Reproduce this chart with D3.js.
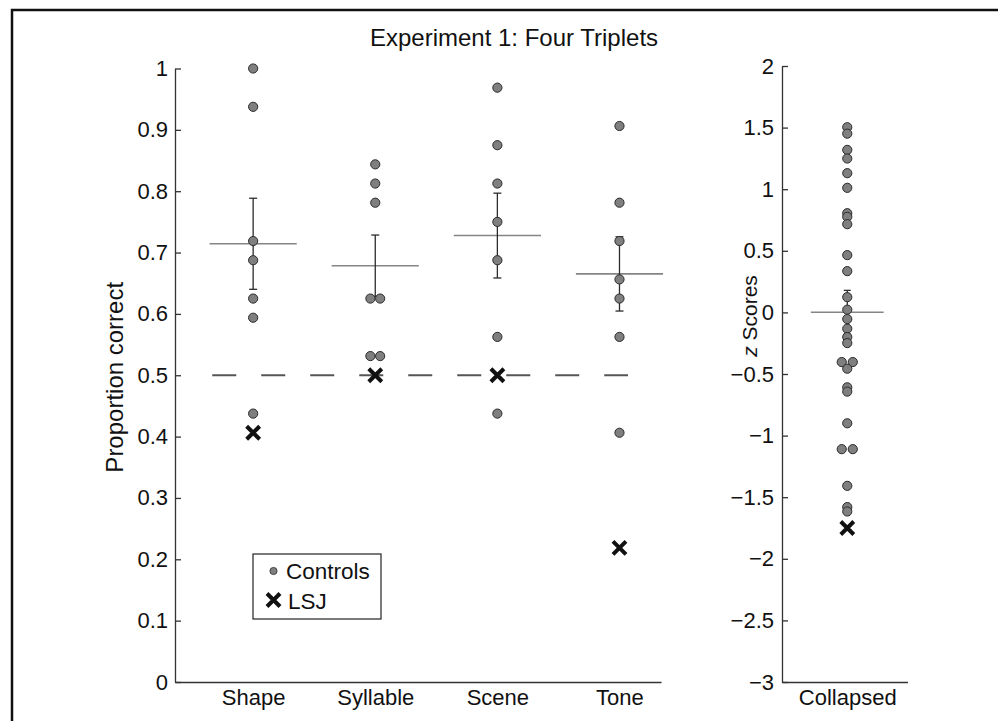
<!DOCTYPE html>
<html>
<head>
<meta charset="utf-8">
<script src="https://cdn.jsdelivr.net/npm/d3@7/dist/d3.min.js"></script>
<style>
  html, body { margin: 0; padding: 0; background: #fff; }
  svg { display: block; }
  text { font-family: "Liberation Sans", Arial, Helvetica, sans-serif; fill: #111; }
</style>
</head>
<body>
<svg id="chart" width="998" height="721"></svg>
<script>
// ---------- data ----------
const title = "Experiment 1: Four Triplets";
const categories = ["Shape", "Syllable", "Scene", "Tone"];
const shapeScores    = [1.0, 0.9375, 0.71875, 0.6875, 0.625, 0.59375, 0.4375];
const syllableScores = [0.84375, 0.8125, 0.78125, 0.625, 0.625, 0.53125, 0.53125];
const sceneScores    = [0.96875, 0.875, 0.8125, 0.75, 0.6875, 0.5625, 0.4375];
const toneScores     = [0.90625, 0.78125, 0.71875, 0.65625, 0.625, 0.5625, 0.40625];
const lsjScores      = [0.40625, 0.5, 0.5, 0.21875];
const chanceLevel    = 0.5;
const leftTicks = [0, 0.1, 0.2, 0.3, 0.4, 0.5, 0.6, 0.7, 0.8, 0.9, 1];

const collapsedLabel = "Collapsed";
const collapsedZ = [1.503, 1.451, 1.319, 1.249, 1.13, 1.011, 0.805, 0.776, 0.716,
  0.465, 0.335, 0.124, 0.022, -0.054, -0.132, -0.2, -0.249, -0.403, -0.403, -0.457,
  -0.608, -0.643, -0.9, -1.11, -1.11, -1.408, -1.58, -1.616];
const lsjCollapsedZ = -1.75;
const rightTicks = [-3, -2.5, -2, -1.5, -1, -0.5, 0, 0.5, 1, 1.5, 2];

const legendLabels = ["Controls", "LSJ"];

// ---------- helpers ----------
const groups = [shapeScores, syllableScores, sceneScores, toneScores];
const sem = a => d3.deviation(a) / Math.sqrt(a.length);
const fmt = v => (v < 0 ? "\u2212" : "") + String(Math.abs(v));
function withOffsets(values, step) {
  // spread exactly-equal values side by side
  const counts = d3.rollup(values, v => v.length, v => v);
  const seen = new Map();
  return values.map(v => {
    const n = counts.get(v), i = seen.get(v) || 0;
    seen.set(v, i + 1);
    return { v, off: (i - (n - 1) / 2) * step };
  });
}

const svg = d3.select("#chart");
const FONT = 22;
const BIG = 24;
const circleFill = "#7f7f7f", circleStroke = "#2b2b2b", axisColor = "#333";

// outer frame
svg.append("rect").attr("x", 12).attr("y", 10).attr("width", 1100).attr("height", 900)
  .attr("fill", "none").attr("stroke", "#111").attr("stroke-width", 2.5);

// title
svg.append("text").attr("x", 514).attr("y", 45.5).attr("text-anchor", "middle")
  .style("font-size", BIG + "px").text(title);

function xMark(g, cx, cy, h, w) {
  g.append("path")
    .attr("d", `M${cx - h},${cy - h}L${cx + h},${cy + h}M${cx + h},${cy - h}L${cx - h},${cy + h}`)
    .attr("stroke", "#111").attr("stroke-width", w).attr("fill", "none");
}

function styleAxis(g) {
  g.selectAll(".domain").attr("stroke", axisColor).attr("stroke-width", 1.3);
  g.selectAll(".tick line").attr("stroke", axisColor).attr("stroke-width", 1.3);
  g.selectAll("text").style("font-size", FONT + "px")
    .style("font-family", '"Liberation Sans", Arial, sans-serif').attr("fill", "#111");
}

// ---------- left panel ----------
const xL = d3.scaleLinear().domain([0.36, 4.34]).range([175, 661]);
const yL = d3.scaleLinear().domain([0, 1]).range([682, 68.5]);
const L = svg.append("g");

L.append("g").attr("transform", `translate(${xL.range()[0]},0)`)
  .call(d3.axisLeft(yL).tickValues(leftTicks).tickFormat(fmt).tickSizeInner(-6).tickSizeOuter(0).tickPadding(7))
  .call(styleAxis);
L.append("g").attr("transform", `translate(0,${yL.range()[0]})`)
  .call(d3.axisBottom(xL).tickValues([1, 2, 3, 4]).tickFormat((d, i) => categories[i]).tickSize(0).tickPadding(7))
  .call(styleAxis);

L.append("text").attr("transform", `translate(123,${(yL(0) + yL(1)) / 2 + 2}) rotate(-90)`)
  .attr("text-anchor", "middle").style("font-size", BIG + "px").text("Proportion correct");

// chance line
L.append("line").attr("x1", xL(0.665)).attr("x2", xL(4.07))
  .attr("y1", yL(chanceLevel)).attr("y2", yL(chanceLevel))
  .attr("stroke", "#555").attr("stroke-width", 2).attr("stroke-dasharray", "24,25");

groups.forEach((vals, gi) => {
  const cx = gi + 1;
  const m = d3.mean(vals), s = sem(vals);
  // mean line
  L.append("line").attr("x1", xL(cx - 0.357)).attr("x2", xL(cx + 0.357))
    .attr("y1", yL(m)).attr("y2", yL(m)).attr("stroke", "#858585").attr("stroke-width", 1.6);
  // error bar
  L.append("line").attr("x1", xL(cx)).attr("x2", xL(cx)).attr("y1", yL(m - s)).attr("y2", yL(m + s))
    .attr("stroke", "#2b2b2b").attr("stroke-width", 1.3);
  [m - s, m + s].forEach(v => L.append("line").attr("x1", xL(cx) - 4).attr("x2", xL(cx) + 4)
    .attr("y1", yL(v)).attr("y2", yL(v)).attr("stroke", "#2b2b2b").attr("stroke-width", 1.3));
  // points
  L.selectAll(null).data(withOffsets(vals, 0.08)).enter().append("circle")
    .attr("cx", d => xL(cx + d.off)).attr("cy", d => yL(d.v)).attr("r", 4.6)
    .attr("fill", circleFill).attr("stroke", circleStroke).attr("stroke-width", 1);
  // LSJ
  xMark(L, xL(cx), yL(lsjScores[gi]), 6.5, 4);
});

// legend
const lg = svg.append("g");
lg.append("rect").attr("x", 253).attr("y", 554).attr("width", 128).attr("height", 65)
  .attr("fill", "#fff").attr("stroke", "#222").attr("stroke-width", 1.2);
lg.append("circle").attr("cx", 273.5).attr("cy", 571).attr("r", 3.6)
  .attr("fill", circleFill).attr("stroke", circleStroke).attr("stroke-width", 0.8);
lg.append("text").attr("x", 286).attr("y", 579).style("font-size", "22.5px").text(legendLabels[0]);
xMark(lg, 273.5, 600, 6.5, 4);
lg.append("text").attr("x", 288).attr("y", 608.5).style("font-size", "22.5px").text(legendLabels[1]);

// ---------- right panel ----------
const xR = d3.scaleLinear().domain([0.48, 1.48]).range([782, 907.5]);
const yR = d3.scaleLinear().domain([-3, 2]).range([682, 66]);
const R = svg.append("g");

R.append("g").attr("transform", `translate(${xR.range()[0]},0)`)
  .call(d3.axisLeft(yR).tickValues(rightTicks).tickFormat(fmt).tickSizeInner(-6).tickSizeOuter(0).tickPadding(8))
  .call(styleAxis);
R.append("g").attr("transform", `translate(0,${yR.range()[0]})`)
  .call(d3.axisBottom(xR).tickValues([1]).tickFormat(() => collapsedLabel).tickSize(0).tickPadding(7))
  .call(styleAxis);

const zl = R.append("text").attr("transform", `translate(757,316) rotate(-90)`)
  .attr("text-anchor", "middle").style("font-size", "21px");
zl.append("tspan").style("font-style", "italic").text("z");
zl.append("tspan").text(" Scores");

{
  const m = d3.mean(collapsedZ), s = sem(collapsedZ);
  R.append("line").attr("x1", xR(1 - 0.29)).attr("x2", xR(1 + 0.29))
    .attr("y1", yR(m)).attr("y2", yR(m)).attr("stroke", "#858585").attr("stroke-width", 1.6);
  R.append("line").attr("x1", xR(1)).attr("x2", xR(1)).attr("y1", yR(m - s)).attr("y2", yR(m + s))
    .attr("stroke", "#2b2b2b").attr("stroke-width", 1.3);
  [m - s, m + s].forEach(v => R.append("line").attr("x1", xR(1) - 3.5).attr("x2", xR(1) + 3.5)
    .attr("y1", yR(v)).attr("y2", yR(v)).attr("stroke", "#2b2b2b").attr("stroke-width", 1.3));
  R.selectAll(null).data(withOffsets(collapsedZ, 0.088)).enter().append("circle")
    .attr("cx", d => xR(1 + d.off)).attr("cy", d => yR(d.v)).attr("r", 4.6)
    .attr("fill", circleFill).attr("stroke", circleStroke).attr("stroke-width", 1);
  xMark(R, xR(1), yR(lsjCollapsedZ), 6.5, 4);
}
</script>
</body>
</html>
